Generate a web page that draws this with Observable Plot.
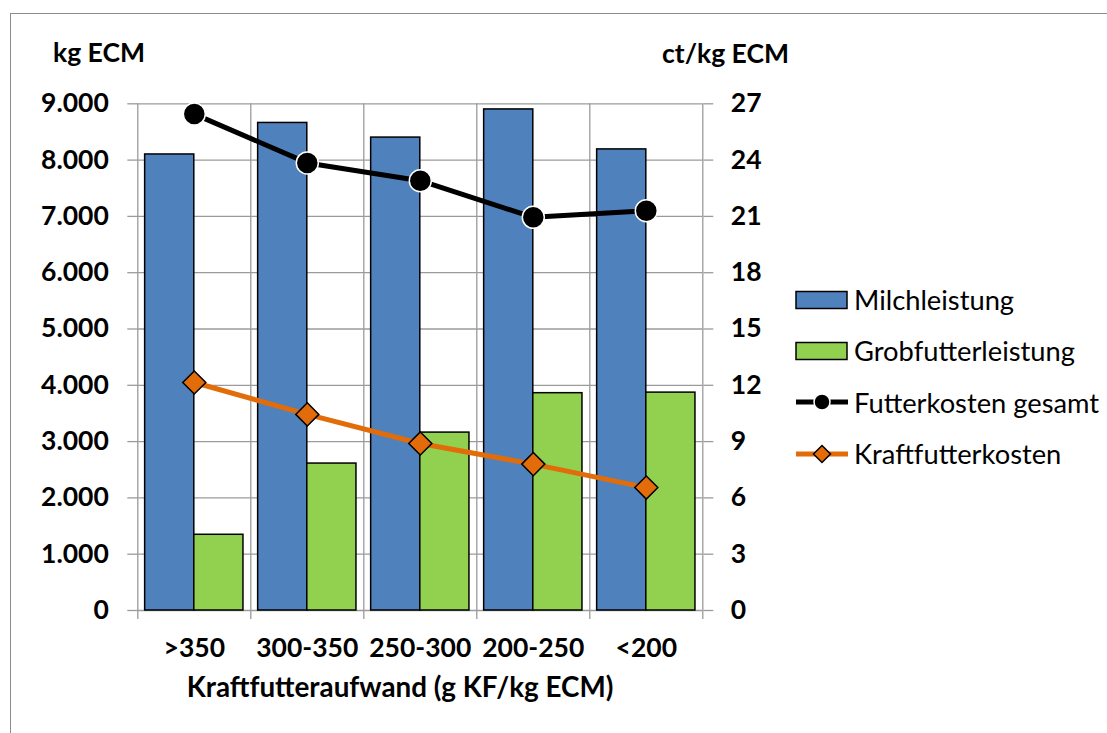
<!DOCTYPE html>
<html lang="de">
<head>
<meta charset="utf-8">
<script src="https://cdn.jsdelivr.net/npm/d3@7"></script>
<script src="https://cdn.jsdelivr.net/npm/@observablehq/plot@0.6"></script>
<style>
  html, body { margin: 0; padding: 0; background: #fff; }
  body { width: 1107px; height: 733px; position: relative; overflow: hidden; font-family: Lato, "Open Sans", sans-serif; }
  #frame { position: absolute; left: 10px; top: 13px; width: 1200px; height: 800px; border: 1px solid #8c8c8c; box-sizing: border-box; }
  #chart { position: absolute; left: 0; top: 0; }
  #titles { position: absolute; left: 0; top: 0; pointer-events: none; }
  #legend { position: absolute; left: 795px; top: 274px; }
  .row { display: flex; align-items: center; height: 51.3px; font-size: 27.3px; color: #000; }
  .row svg { margin-right: 5px; flex: none; }
</style>
</head>
<body>
<div id="frame"></div>
<div id="chart"></div>
<svg id="titles" width="1107" height="733" font-family="Lato, 'Open Sans', sans-serif" font-weight="bold">
  <text x="53" y="62" font-size="26.5">kg ECM</text>
  <text x="662" y="63" font-size="26.5">ct/kg ECM</text>
  <text x="400" y="697" font-size="27.8" text-anchor="middle">Kraftfutteraufwand (g KF/kg ECM)</text>
</svg>
<div id="legend"></div>
<script>
// Kraftfutteraufwand-Klassen (g KF/kg ECM)
const categories = [">350", "300-350", "250-300", "200-250", "<200"];
// Leistungen in kg ECM (linke Achse)
const milchleistung = [8100, 8660, 8400, 8900, 8190];
const grobfutterleistung = [1345, 2610, 3160, 3860, 3870];
// Kosten in ct/kg ECM (rechte Achse)
const futterkostenGesamt = [26.45, 23.85, 22.9, 20.95, 21.3];
const kraftfutterkosten = [12.15, 10.45, 8.9, 7.8, 6.55];
// Achsenbeschriftungen
const leftTicks = [0, 1000, 2000, 3000, 4000, 5000, 6000, 7000, 8000, 9000];
const rightTicks = [0, 3, 6, 9, 12, 15, 18, 21, 24, 27];

const series = [
  {name: "Milchleistung", color: "#4f81bd", kind: "bar"},
  {name: "Grobfutterleistung", color: "#92d050", kind: "bar"},
  {name: "Futterkosten gesamt", color: "#000000", kind: "dot"},
  {name: "Kraftfutterkosten", color: "#e36c0a", kind: "diamond"}
];

const leftMax = leftTicks[leftTicks.length - 1];
const rightMax = rightTicks[rightTicks.length - 1];
const k = leftMax / rightMax; // ct/kg -> kg-Skala

const rows = categories.map((c, i) => ({
  i, c,
  milch: milchleistung[i],
  grob: grobfutterleistung[i],
  gesamt: futterkostenGesamt[i] * k,
  kraft: kraftfutterkosten[i] * k
}));

const edges = categories.map((_, i) => i - 0.5).concat([categories.length - 0.5]);
const pad = 0.065;
const de = d3.formatLocale({decimal: ",", thousands: ".", grouping: [3], currency: ["", " €"]});
const fmtDE = de.format(",");
const grid = "#9b9b9b";

const chart = Plot.plot({
  width: 1107,
  height: 733,
  marginLeft: 137.3,
  marginRight: 404.7,
  marginTop: 103.3,
  marginBottom: 123,
  style: {fontFamily: "Lato, 'Open Sans', sans-serif", background: "transparent", color: "#000"},
  x: {type: "linear", domain: [-0.5, categories.length - 0.5], axis: null, label: null},
  y: {domain: [0, leftMax], axis: null, label: null},
  marks: [
    Plot.gridY(leftTicks, {stroke: grid, strokeOpacity: 1, strokeWidth: 1.3}),
    Plot.gridX(edges, {stroke: grid, strokeOpacity: 1, strokeWidth: 1.3}),
    Plot.axisX(edges, {anchor: "bottom", label: null, tickSize: 9, stroke: grid, strokeWidth: 1.3, tickFormat: () => ""}),
    Plot.axisX(rows.map(d => d.i), {anchor: "bottom", label: null, tickSize: 0, tickPadding: 28, tickFormat: i => categories[i], fontSize: 26.5, fontWeight: "bold"}),
    Plot.axisY(leftTicks, {anchor: "left", label: null, tickSize: 10, tickPadding: 19, stroke: grid, strokeWidth: 1.3, tickFormat: fmtDE, fontSize: 26.5, fontWeight: "bold"}),
    Plot.axisY(rightTicks.map(v => v * k), {anchor: "right", label: null, tickSize: 10, tickPadding: 18, stroke: grid, strokeWidth: 1.3, tickFormat: d => String(Math.round(d / k)), fontSize: 26.5, fontWeight: "bold"}),
    Plot.rectY(rows, {x1: d => d.i - 0.5 + pad, x2: d => d.i, y: "milch", fill: series[0].color, stroke: "#000", strokeWidth: 1.5}),
    Plot.rectY(rows, {x1: d => d.i, x2: d => d.i + 0.5 - pad, y: "grob", fill: series[1].color, stroke: "#000", strokeWidth: 1.5}),
    Plot.line(rows, {x: "i", y: "gesamt", stroke: series[2].color, strokeWidth: 5}),
    Plot.dot(rows, {x: "i", y: "gesamt", r: 11, fill: series[2].color, stroke: "#fff", strokeWidth: 1.5}),
    Plot.line(rows, {x: "i", y: "kraft", stroke: series[3].color, strokeWidth: 5}),
    Plot.dot(rows, {x: "i", y: "kraft", r: 10.4, symbol: "diamond2", fill: series[3].color, stroke: "#000", strokeWidth: 1.5})
  ]
});
document.getElementById("chart").append(chart);

// Legende
const legend = d3.select("#legend");
for (const s of series) {
  const row = legend.append("div").attr("class", "row");
  const sw = row.append("svg").attr("width", 54).attr("height", 24);
  if (s.kind === "bar") {
    sw.append("rect").attr("x", 1).attr("y", 3.5).attr("width", 51).attr("height", 17)
      .attr("fill", s.color).attr("stroke", "#000").attr("stroke-width", 1.5);
  } else {
    sw.append("line").attr("x1", 1).attr("x2", 53).attr("y1", 12).attr("y2", 12)
      .attr("stroke", s.color).attr("stroke-width", 5);
    if (s.kind === "dot") {
      sw.append("circle").attr("cx", 27).attr("cy", 12).attr("r", 8)
        .attr("fill", s.color).attr("stroke", "#fff").attr("stroke-width", 1.5);
    } else {
      sw.append("path").attr("d", "M27,3.5L35.5,12L27,20.5L18.5,12Z")
        .attr("fill", s.color).attr("stroke", "#000").attr("stroke-width", 1.5);
    }
  }
  row.append("span").text(s.name);
}
</script>
</body>
</html>
